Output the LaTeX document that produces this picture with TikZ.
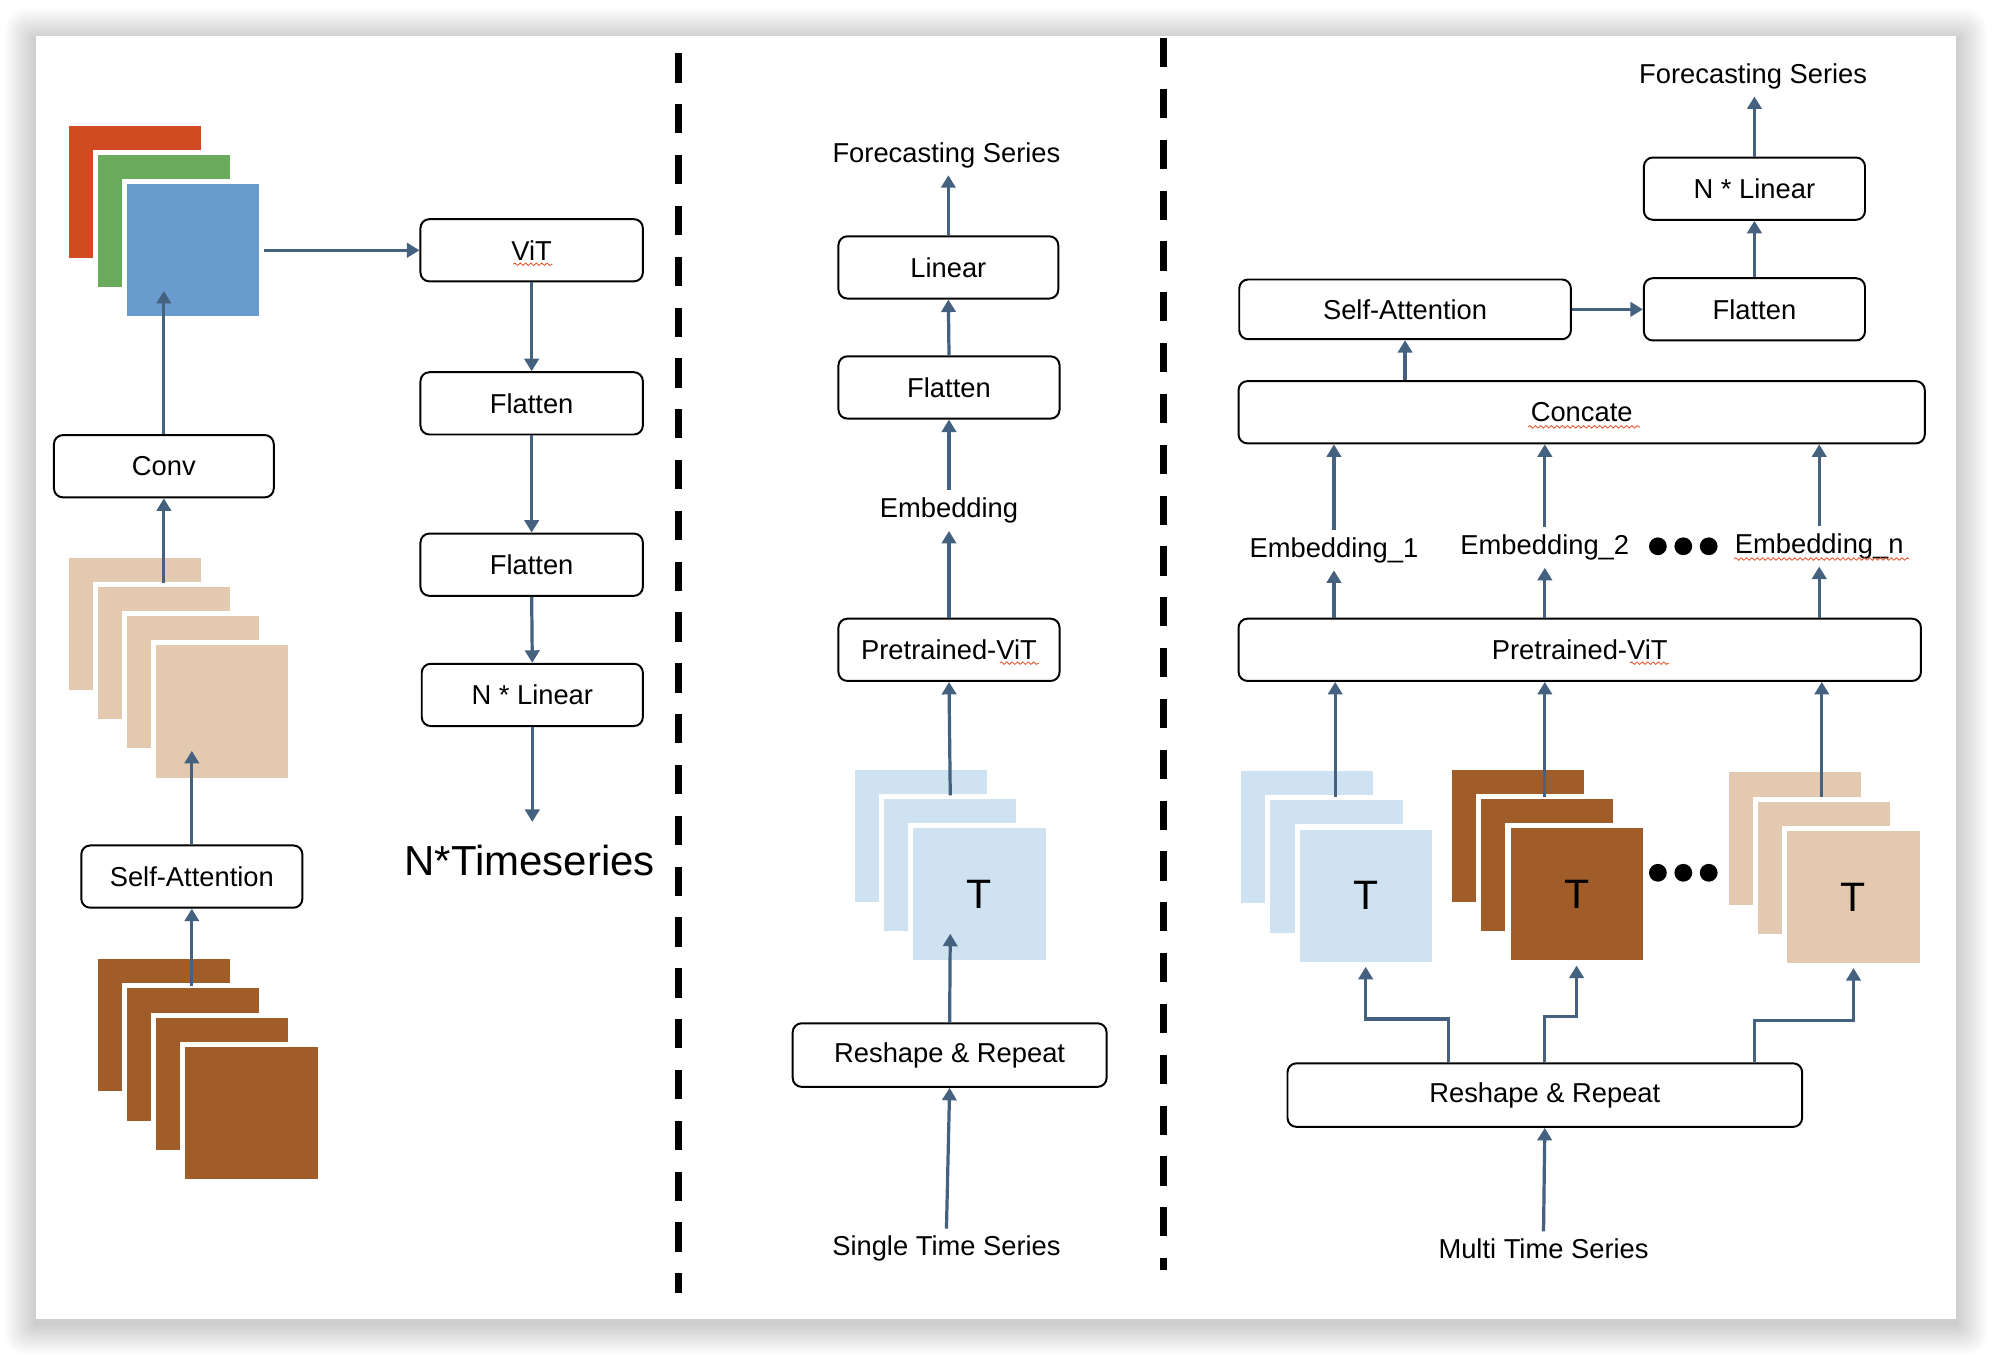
\documentclass[tikz,border=0pt]{standalone}
\usepackage{fontspec}
\setmainfont{Liberation Sans}
\usetikzlibrary{arrows.meta,calc,decorations.pathmorphing}

\definecolor{arrowblue}{HTML}{44617F}
\definecolor{sqred}{HTML}{D04B22}
\definecolor{sqgreen}{HTML}{6AAA5C}
\definecolor{sqblue}{HTML}{6A9BCF}
\definecolor{sqbeige}{HTML}{E3C9B0}
\definecolor{sqbrown}{HTML}{A05D2A}
\definecolor{sqlight}{HTML}{CFE2F2}
\definecolor{wavyred}{HTML}{E0522B}

\tikzset{
  blk/.style={draw, rounded corners=5pt, line width=1.1pt, minimum height=1.225cm,
    inner sep=0pt, font=\fontsize{15.3}{18}\selectfont},
  lbl/.style={inner sep=4pt, font=\fontsize{15.3}{18}\selectfont},
  sq/.style={draw=white, line width=0.1cm, inner sep=0pt, minimum size=2.7cm,
    font=\fontsize{23}{26}\selectfont},
  arr/.style={draw=arrowblue, line width=1.8pt, -{Triangle[length=7pt,width=8pt]}},
  squig/.style={draw=wavyred, line width=0.45pt, decorate,
    decoration={snake, amplitude=0.7pt, segment length=3pt}},
  sepline/.style={line width=3.9pt, dash pattern=on 0.575cm off 0.425cm},
}

\begin{document}
\begin{tikzpicture}[x=0.025cm, y=-0.025cm]
\useasboundingbox (0,0) rectangle (1568,1066);
\fill[white] (0,0) rectangle (1568,1066);
% sheet with a soft shadow
\foreach \s in {1,...,12}
  \fill[black, opacity=0.014, rounded corners=\s pt] (28-2*\s,31-2*\s) rectangle (1540+2*\s,1042+2*\s);
\fill[white] (28,28) rectangle (1540,1038);

\draw[sepline] (534,42) -- (534,1018);
\draw[sepline] (916,30) -- (916,1000);

% left part
\node[sq, fill=sqred] (red) at (106,151) {};
\node[sq, fill=sqgreen] (green) at (129,174) {};
\node[sq, fill=sqblue] (blue) at (152,197) {};

\node[sq, fill=sqbeige] (bg1) at (106,491) {};
\node[sq, fill=sqbeige] (bg2) at (129,514) {};
\node[sq, fill=sqbeige] (bg3) at (152,537) {};
\node[sq, fill=sqbeige] (bg4) at (175,560) {};

\node[sq, fill=sqbrown] (br1) at (129,807) {};
\node[sq, fill=sqbrown] (br2) at (152,830) {};
\node[sq, fill=sqbrown] (br3) at (175,853) {};
\node[sq, fill=sqbrown] (br4) at (198,876) {};

\node[blk, minimum width=4.325cm] (conv) at (129,367) {Conv};
\node[blk, minimum width=4.35cm] (att1) at (151,690) {Self-Attention};
\node[blk, minimum width=4.375cm] (vit) at (418.5,197) {ViT};
\node[blk, minimum width=4.375cm] (flat1) at (418.5,317.5) {Flatten};
\node[blk, minimum width=4.375cm] (flat2) at (418.5,444.5) {Flatten};
\node[blk, minimum width=4.35cm] (nlin1) at (419,547) {N * Linear};
\node[font=\fontsize{23.5}{28}\selectfont] (nts) at (417,677) {N*Timeseries};

\coordinate (convin) at (129,229);
\coordinate (bgout) at (129,459);
\coordinate (attin) at (151,591);
\coordinate (brout) at (151,776);
\coordinate (ntsin) at (419,647);

\draw[arr] (blue.east) -- (vit.west);
\draw[arr] (conv.north) -- (convin);
\draw[arr] (bgout) -- (conv.south);
\draw[arr] (att1.north) -- (attin);
\draw[arr] (brout) -- (att1.south);
\draw[arr] (vit.south) -- (flat1.north);
\draw[arr] (flat1.south) -- (flat2.north);
\draw[arr] (flat2.south) -- (nlin1.north);
\draw[arr] (nlin1.south) -- (ntsin);

% middle part
\node[sq, fill=sqlight] (lb1) at (725,658) {};
\node[sq, fill=sqlight] (lb2) at (748,681) {};
\node[sq, fill=sqlight] (lb3) at (771,704) {T};

\node[lbl] (fore1) at (745,122) {Forecasting Series};
\node[blk, minimum width=4.325cm] (lin) at (746.5,210.5) {Linear};
\node[blk, minimum width=4.35cm] (flat3) at (747,305) {Flatten};
\node[lbl] (emb) at (747,402) {Embedding};
\node[blk, minimum width=4.35cm] (pvit1) at (747,511.5) {Pretrained-ViT};
\node[blk, minimum width=6.175cm, minimum height=1.25cm] (rr1) at (747.5,830.5) {Reshape \& Repeat};
\node[lbl] (single) at (745,983) {Single Time Series};

\coordinate (lbout) at (748,626);
\coordinate (lbin) at (748,735);

\draw[arr] (lin.north) -- (lin.north |- fore1.south);
\draw[arr] (flat3.north) -- (lin.south);
\draw[arr] (emb.north) -- (flat3.south);
\draw[arr] (pvit1.north) -- (emb.south);
\draw[arr] (lbout) -- (pvit1.south);
\draw[arr] (rr1.north) -- (lbin);
\draw[arr] (single.north) -- (rr1.south);

% right part
\node[sq, fill=sqlight] (lt1) at (1029,659) {};
\node[sq, fill=sqlight] (lt2) at (1052,682) {};
\node[sq, fill=sqlight] (lt3) at (1075,705) {T};
\node[sq, fill=sqbrown] (bt1) at (1195,658) {};
\node[sq, fill=sqbrown] (bt2) at (1218,681) {};
\node[sq, fill=sqbrown] (bt3) at (1241,704) {T};
\node[sq, fill=sqbeige] (be1) at (1413,660) {};
\node[sq, fill=sqbeige] (be2) at (1436,683) {};
\node[sq, fill=sqbeige] (be3) at (1459,706) {T};

\fill (1305,687) circle (0.175cm);
\fill (1325,687) circle (0.175cm);
\fill (1345,687) circle (0.175cm);

\node[lbl] (fore2) at (1380,60) {Forecasting Series};
\node[blk, minimum width=4.35cm] (nlin2) at (1381,148.5) {N * Linear};
\node[blk, minimum width=4.35cm] (flat4) at (1381,243.5) {Flatten};
\node[blk, minimum width=6.525cm, minimum height=1.175cm] (att2) at (1106,243.5) {Self-Attention};
\node[blk, minimum width=13.5cm] (cat) at (1245,324.5) {Concate};
\node[lbl] (emb1) at (1050,433) {Embedding\_1};
\node[lbl] (emb2) at (1216,431) {Embedding\_2};
\node[lbl] (embn) at (1432,430) {Embedding\_n};
\fill (1305,430) circle (0.175cm);
\fill (1325,430) circle (0.175cm);
\fill (1345,430) circle (0.175cm);
\node[blk, minimum width=13.425cm] (pvit2) at (1243.5,511.5) {Pretrained-ViT};
\node[blk, minimum width=10.125cm, minimum height=1.25cm] (rr2) at (1216,862) {Reshape \& Repeat};
\node[lbl] (multi) at (1215,983) {Multi Time Series};

\coordinate (s1out) at (1051,627);
\coordinate (s2out) at (1216,627);
\coordinate (s3out) at (1434,627);

\draw[arr] (nlin2.north) -- (nlin2.north |- fore2.south);
\draw[arr] (flat4.north) -- (nlin2.south);
\draw[arr] (att2.east) -- (flat4.west);
\draw[arr] (att2.south |- cat.north) -- (att2.south);
\draw[arr] (emb1.north) -- (emb1.north |- cat.south);
\draw[arr] (emb2.north) -- (emb2.north |- cat.south);
\draw[arr] (embn.north) -- (embn.north |- cat.south);
\draw[arr] (emb1.south |- pvit2.north) -- (emb1.south);
\draw[arr] (emb2.south |- pvit2.north) -- (emb2.south);
\draw[arr] (embn.south |- pvit2.north) -- (embn.south);
\draw[arr] (s1out) -- (s1out |- pvit2.south);
\draw[arr] (s2out) -- (s2out |- pvit2.south);
\draw[arr] (s3out) -- (s3out |- pvit2.south);
\draw[arr] ($(rr2.north)+(-76,0)$) |- ($(lt3.south)+(0,41)$) -- (lt3.south);
\draw[arr] (rr2.north) |- ($(bt3.south)+(0,40)$) -- (bt3.south);
\draw[arr] ($(rr2.north)+(165,0)$) |- ($(be3.south)+(0,41)$) -- (be3.south);
\draw[arr] (multi.north) -- (rr2.south);

% spell-check marks
\draw[squig] (404,208) -- (435,208);
\draw[squig] (787,522) -- (818,522);
\draw[squig] (1283,522) -- (1314,522);
\draw[squig] (1203,336) -- (1291,336);
\draw[squig] (1365,440) -- (1503,440);
\end{tikzpicture}
\end{document}
